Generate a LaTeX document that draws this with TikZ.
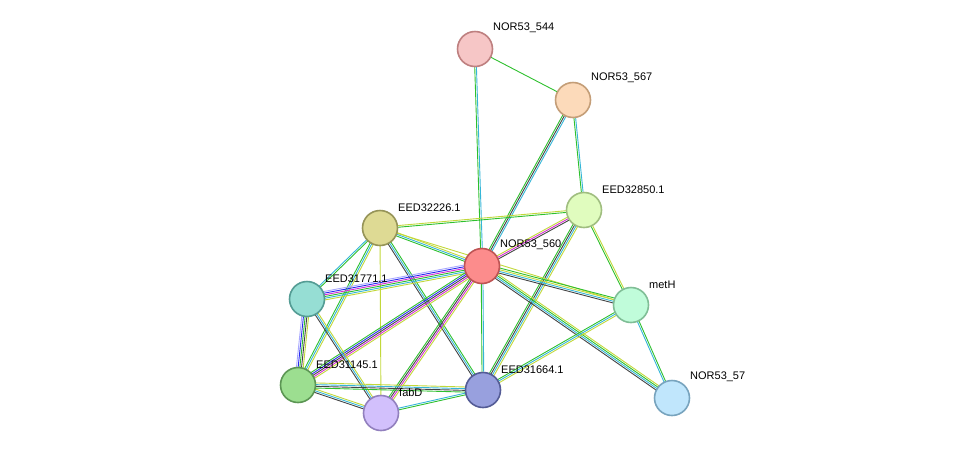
\documentclass[tikz,border=0pt]{standalone}
\usepackage{fontspec}
\setmainfont{Liberation Sans}
\usetikzlibrary{calc}
\definecolor{G}{HTML}{2EC02E}
\definecolor{Y}{HTML}{C2D83A}
\definecolor{C}{HTML}{35B6D8}
\definecolor{K}{HTML}{444444}
\definecolor{M}{HTML}{D42CD4}
\definecolor{B}{HTML}{2A2AF0}
\definecolor{L}{HTML}{A8A8FF}
\tikzset{prot/.style={circle,draw,line width=1.6pt,minimum size=35pt,inner sep=0pt},
lab/.style={font=\fontsize{11}{13}\selectfont,anchor=south west,inner sep=1pt}}
\newcommand\edge[3]{%
 \foreach \c [count=\i] in {#3}{\xdef\nn{\i}}%
 \foreach \c [count=\i] in {#3}{%
  \pgfmathsetmacro\off{(\i-(\nn+1)/2)*1.7}%
  \draw[\c,line width=0.9pt] ($(#1)!\off pt!90:(#2)$) -- ($(#2)!\off pt!-90:(#1)$);}}
\begin{document}
\begin{tikzpicture}[x=1pt,y=-1pt]
\useasboundingbox (0,0) rectangle (975,459);
\coordinate (a544) at (475,49);
\coordinate (a567) at (573,100);
\coordinate (a850) at (584,210);
\coordinate (a226) at (380,228);
\coordinate (a560) at (482,266);
\coordinate (a771) at (307,299);
\coordinate (ameth) at (631,305);
\coordinate (a145) at (298,385);
\coordinate (afab) at (381,413);
\coordinate (a664) at (483,390);
\coordinate (a57) at (672,398);
\edge{a544}{a567}{G}
\edge{a544}{a560}{G,C}
\edge{a567}{a560}{G,K,C}
\edge{a567}{a850}{G,C}
\edge{a850}{a560}{Y,M,K}
\edge{a850}{a226}{Y,G}
\edge{a850}{ameth}{G,Y}
\edge{a850}{a664}{G,K,C,Y}
\edge{a226}{a560}{G,C,Y}
\edge{a226}{a771}{C,G}
\edge{a226}{a145}{G,C,Y}
\edge{a226}{a664}{K,C,G}
\edge{a226}{afab}{Y}
\edge{a226}{ameth}{Y}
\edge{a560}{a771}{L,B,M,G,C,Y}
\edge{a560}{a145}{G,B,K,M,Y}
\edge{a560}{afab}{G,K,M,Y}
\edge{a560}{a664}{G,C}
\edge{a560}{ameth}{K,C,Y,G}
\edge{a560}{a57}{K,C,G,Y}
\edge{a771}{a145}{L,B,G,K,Y}
\edge{a771}{afab}{K,C,Y}
\edge{a145}{afab}{K,C,Y}
\edge{a145}{a664}{G,K,C,Y}
\edge{afab}{a664}{G,C}
\edge{a664}{ameth}{Y,C,G}
\edge{ameth}{a57}{C,G}
\node[prot,fill={rgb,255:red,246;green,198;blue,198},draw={rgb,255:red,190;green,128;blue,128}] (n544) at (a544) {};
\node[prot,fill={rgb,255:red,252;green,218;blue,186},draw={rgb,255:red,196;green,158;blue,120}] (n567) at (a567) {};
\node[prot,fill={rgb,255:red,224;green,252;blue,190},draw={rgb,255:red,160;green,190;blue,128}] (n850) at (a850) {};
\node[prot,fill={rgb,255:red,222;green,218;blue,148},draw={rgb,255:red,150;green,148;blue,88}] (n226) at (a226) {};
\node[prot,fill={rgb,255:red,252;green,140;blue,140},draw={rgb,255:red,190;green,84;blue,84}] (n560) at (a560) {};
\node[prot,fill={rgb,255:red,150;green,222;blue,212},draw={rgb,255:red,84;green,156;blue,148}] (n771) at (a771) {};
\node[prot,fill={rgb,255:red,192;green,252;blue,218},draw={rgb,255:red,128;green,190;blue,150}] (nmeth) at (ameth) {};
\node[prot,fill={rgb,255:red,156;green,222;blue,144},draw={rgb,255:red,92;green,150;blue,84}] (n145) at (a145) {};
\node[prot,fill={rgb,255:red,210;green,192;blue,252},draw={rgb,255:red,146;green,128;blue,190}] (nfab) at (afab) {};
\node[prot,fill={rgb,255:red,152;green,160;blue,222},draw={rgb,255:red,84;green,92;blue,150}] (n664) at (a664) {};
\node[prot,fill={rgb,255:red,192;green,230;blue,252},draw={rgb,255:red,120;green,164;blue,190}] (n57) at (a57) {};
\node[lab] at (492,34) {NOR53\_544};
\node[lab] at (590,84) {NOR53\_567};
\node[lab] at (601,195) {EED32850.1};
\node[lab] at (397,213) {EED32226.1};
\node[lab] at (499,251) {NOR53\_560};
\node[lab] at (324,284) {EED31771.1};
\node[lab] at (648,290) {metH};
\node[lab] at (315,370) {EED31145.1};
\node[lab] at (398,398) {fabD};
\node[lab] at (500,375) {EED31664.1};
\node[lab] at (689,383) {NOR53\_57};
\end{tikzpicture}
\end{document}
